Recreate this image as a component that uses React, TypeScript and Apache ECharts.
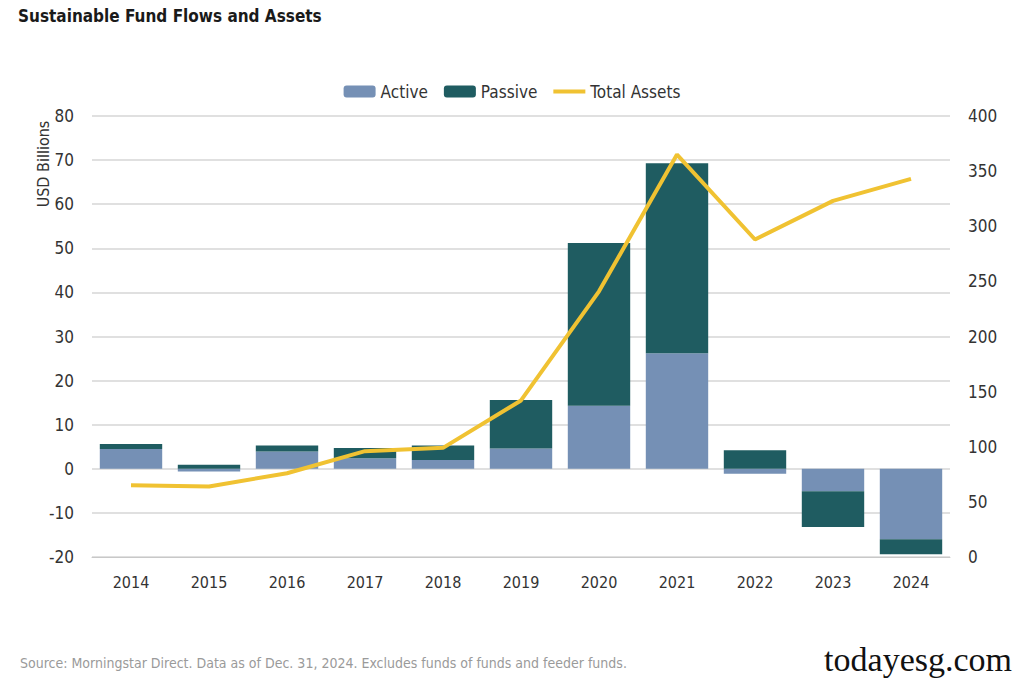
import React, { useEffect, useRef } from "react";
import * as echarts from "echarts";

const years = ["2014", "2015", "2016", "2017", "2018", "2019", "2020", "2021", "2022", "2023", "2024"];
const active = [4.5, -0.6, 3.9, 2.4, 2.0, 4.6, 14.3, 26.2, -1.1, -5.1, -16.0];
const passive = [1.1, 0.9, 1.4, 2.3, 3.3, 11.0, 36.9, 43.1, 4.2, -8.1, -3.4];
const totalAssets = [65, 64, 76, 96, 99, 142, 241, 365, 288, 323, 343];

const FONT = "'DejaVu Sans Condensed', 'Liberation Sans Narrow', sans-serif";

export default function App() {
  const ref = useRef<HTMLDivElement>(null);
  useEffect(() => {
    if (!ref.current) return;
    const chart = echarts.init(ref.current, null, { renderer: "svg" });
    chart.setOption({
      animation: false,
      backgroundColor: "#ffffff",
      textStyle: { fontFamily: FONT },
      title: {
        text: "Sustainable Fund Flows and Assets",
        left: 13,
        top: 2,
        textStyle: { fontFamily: FONT, fontSize: 17, fontWeight: "bold", color: "#1a1a1a" },
      },
      legend: {
        top: 78,
        left: "center",
        itemWidth: 32,
        itemHeight: 12,
        itemGap: 16,
        symbolKeepAspect: true,
        textStyle: { fontFamily: FONT, fontSize: 17, color: "#333" },
        data: [
          { name: "Active" },
          { name: "Passive" },
          { name: "Total Assets", icon: "path://M0,0 L32,0 L32,4 L0,4 Z" },
        ],
      },
      grid: { left: 92, right: 74, top: 116, bottom: 121, containLabel: false },
      xAxis: {
        type: "category",
        data: years,
        axisLine: { show: true, onZero: false, lineStyle: { color: "#c8c8c8", width: 1 } },
        axisTick: { show: false },
        axisLabel: { fontFamily: FONT, fontSize: 16, color: "#333", margin: 17 },
      },
      yAxis: [
        {
          type: "value",
          min: -20,
          max: 80,
          interval: 10,
          axisLine: { show: false },
          axisTick: { show: false },
          splitLine: { lineStyle: { color: "#d6d6d6", width: 1.5 } },
          axisLabel: { fontFamily: FONT, fontSize: 17, color: "#333", margin: 18 },
        },
        {
          type: "value",
          min: 0,
          max: 400,
          interval: 50,
          axisLine: { show: false },
          axisTick: { show: false },
          splitLine: { show: false },
          axisLabel: { fontFamily: FONT, fontSize: 17, color: "#333", margin: 18 },
        },
      ],
      series: [
        {
          name: "Active",
          type: "bar",
          stack: "flows",
          data: active,
          barCategoryGap: "20%",
          itemStyle: { color: "#7590b5" },
        },
        {
          name: "Passive",
          type: "bar",
          stack: "flows",
          data: passive,
          itemStyle: { color: "#1f5c61" },
        },
        {
          name: "Total Assets",
          type: "line",
          yAxisIndex: 1,
          data: totalAssets,
          symbol: "none",
          lineStyle: { color: "#f0c232", width: 4 },
          itemStyle: { color: "#f0c232" },
          z: 5,
        },
      ],
      graphic: [
        {
          type: "text",
          x: 43,
          y: 164,
          rotation: Math.PI / 2,
          style: {
            text: "USD Billions",
            fontFamily: FONT,
            fontSize: 16,
            fill: "#333",
            textAlign: "center",
            textVerticalAlign: "middle",
          },
        },
        {
          type: "text",
          left: 20,
          top: 656,
          style: {
            text: "Source: Morningstar Direct. Data as of Dec. 31, 2024. Excludes funds of funds and feeder funds.",
            fontFamily: FONT,
            fontSize: 14,
            fill: "#9a9a9a",
          },
        },
        {
          type: "text",
          right: 12,
          top: 642,
          style: {
            text: "todayesg.com",
            fontFamily: "'Liberation Serif', 'DejaVu Serif', serif",
            fontSize: 34,
            fill: "#111",
          },
        },
      ],
    });
    return () => chart.dispose();
  }, []);
  return <div ref={ref} style={{ width: 1024, height: 678, position: "absolute", left: 0, top: 0 }} />;
}
